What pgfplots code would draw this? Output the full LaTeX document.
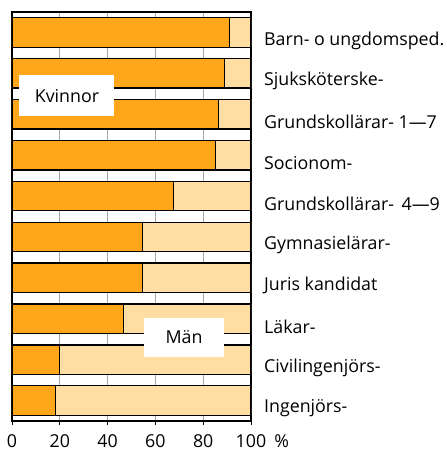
\documentclass[border=0pt]{standalone}
\usepackage{pgfplots}
\pgfplotsset{compat=1.18}
\usepackage{fontspec}
\setmainfont{Open Sans}
\definecolor{kv}{RGB}{255,166,26}
\definecolor{mn}{RGB}{255,222,163}
\begin{document}
\begin{tikzpicture}
\fontsize{17.8bp}{20bp}\selectfont
\begin{axis}[
  at={(0,0)}, anchor=south west,
  scale only axis, width=239bp, height=409bp,
  xbar stacked, bar width=0.72,
  xmin=0, xmax=100, ymin=-0.5, ymax=9.5, y dir=reverse,
  xtick={0,20,40,60,80,100},
  xticklabels={0,20,40,60,80,{100\rlap{\hspace{0.45em}\%}}},
  xtick pos=bottom, tick align=outside,
  major tick length=4bp,
  xmajorgrids, grid style={gray!70, line width=1pt},
  ytick={0,...,9},
  yticklabels={Barn- o ungdomsped.,Sjuksköterske-,Grundskollärar- 1—7,Socionom-,Grundskollärar-\, 4—9,Gymnasielärar-,Juris kandidat,Läkar-,Civilingenjörs-,Ingenjörs-},
  yticklabel pos=right,
  ytick style={draw=none},
  yticklabel style={anchor=west, yshift=-8bp, xshift=3bp},
  xticklabel style={yshift=-3bp},
  axis line style={line width=1.5pt},
  tick style={black, line width=1pt},
]
\addplot[fill=kv, draw=black, line width=1.3pt] coordinates {(91,0) (89,1) (86.5,2) (85,3) (67.5,4) (54.7,5) (54.5,6) (46.6,7) (19.8,8) (18.1,9)};
\addplot[fill=mn, draw=black, line width=1.3pt] coordinates {(9,0) (11,1) (13.5,2) (15,3) (32.5,4) (45.3,5) (45.5,6) (53.4,7) (80.2,8) (81.9,9)};
\coordinate (K) at (axis cs:23,1.55);
\coordinate (M) at (axis cs:72,7.45);
\end{axis}
\node[fill=white, minimum width=95bp, minimum height=41bp, inner sep=0pt] at (K) {Kvinnor};
\node[fill=white, minimum width=80bp, minimum height=39bp, inner sep=0pt] at (M) {Män};
\pgfresetboundingbox
\path[use as bounding box] (-12bp,-31bp) rectangle (435bp,421bp);
\end{tikzpicture}
\end{document}
